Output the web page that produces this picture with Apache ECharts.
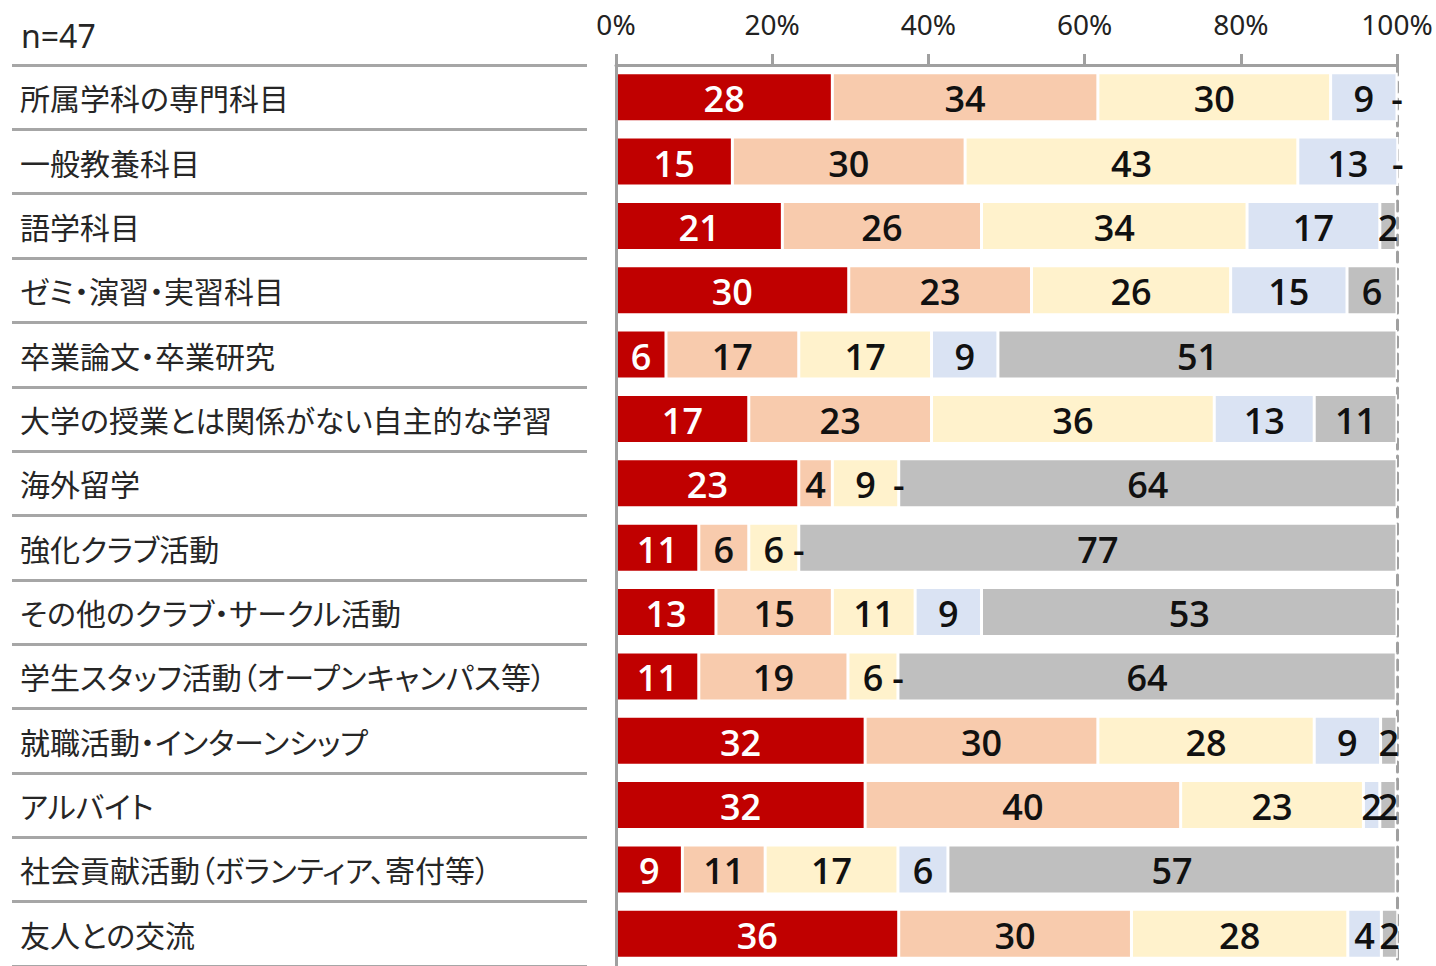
<!DOCTYPE html>
<html>
<head>
<meta charset="utf-8">
<script src="https://cdn.jsdelivr.net/npm/echarts@6/dist/echarts.min.js"></script>
<style>
html,body{margin:0;padding:0;background:#fff;}
#chart{width:1436px;height:966px;}
#chart text{font-feature-settings:"palt" 1 !important;}
</style>
</head>
<body>
<div id="chart"></div>
<script>
const sampleLabel = 'n=47';
const categories = [
  '所属学科の専門科目',
  '一般教養科目',
  '語学科目',
  'ゼミ・演習・実習科目',
  '卒業論文・卒業研究',
  '大学の授業とは関係がない自主的な学習',
  '海外留学',
  '強化クラブ活動',
  'その他のクラブ・サークル活動',
  '学生スタッフ活動（オープンキャンパス等）',
  '就職活動・インターンシップ',
  'アルバイト',
  '社会貢献活動（ボランティア、寄付等）',
  '友人との交流'
];
const xTicks = [0, 20, 40, 60, 80, 100];
const seriesNames = ['系列1', '系列2', '系列3', '系列4', '系列5'];
const values1 = [27.7, 14.9, 21.3, 29.8, 6.4, 17.0, 23.4, 10.6, 12.8, 10.6, 31.9, 31.9, 8.5, 36.2];
const values2 = [34.0, 29.8, 25.5, 23.4, 17.0, 23.4, 4.3, 6.4, 14.9, 19.1, 29.8, 40.4, 10.6, 29.8];
const values3 = [29.8, 42.6, 34.0, 25.5, 17.0, 36.2, 8.5, 6.4, 10.6, 6.4, 27.7, 23.4, 17.0, 27.7];
const values4 = [8.5, 12.8, 17.0, 14.9, 8.5, 12.8, 0, 0, 8.5, 0, 8.5, 2.1, 6.4, 4.3];
const values5 = [0, 0, 2.1, 6.4, 51.1, 10.6, 63.8, 76.6, 53.2, 63.8, 2.1, 2.1, 57.4, 2.1];

const allValues = [values1, values2, values3, values4, values5];
const colors = ['#C00000', '#F8CBAD', '#FFF2CC', '#DAE3F3', '#BFBFBF'];
const labelColors = ['#ffffff', '#111111', '#111111', '#111111', '#111111'];

const chart = echarts.init(document.getElementById('chart'), null, { renderer: 'svg' });
const axisGray = '#A0A0A0';

const series = allValues.map((vals, i) => ({
  name: seriesNames[i],
  type: 'bar',
  stack: 'total',
  xAxisIndex: 0,
  yAxisIndex: 0,
  barWidth: 49,
  clip: false,
  data: vals,
  itemStyle: { color: colors[i], borderColor: '#ffffff', borderWidth: 1.5 },
  label: {
    show: true,
    position: 'inside',
    offset: [0, 1.5],
    color: labelColors[i],
    fontSize: 36,
    fontFamily: 'Open Sans, Noto Sans, sans-serif',
    fontWeight: 600,
    formatter: p => (p.value === 0 ? '-' : String(Math.round(p.value)))
  },
  emphasis: { disabled: true }
}));

chart.setOption({
  animation: false,
  backgroundColor: '#ffffff',
  graphic: [{
    type: 'text',
    left: 21,
    top: 19,
    style: { text: sampleLabel, fontSize: 32, fontFamily: 'Noto Sans, sans-serif', fill: '#262626' }
  }],
  grid: [
    { left: 616, right: 39, top: 65, height: 903 },
    { left: 12, width: 575, top: 65, height: 903 }
  ],
  xAxis: [
    {
      gridIndex: 0,
      type: 'value',
      position: 'top',
      min: xTicks[0],
      max: xTicks[xTicks.length - 1],
      interval: 20,
      axisLine: { show: true, lineStyle: { color: axisGray, width: 3 } },
      axisTick: { show: true, length: 11, lineStyle: { color: axisGray, width: 3 } },
      splitLine: { show: false },
      axisLabel: {
        margin: 27,
        fontSize: 28,
        color: '#222222',
        fontFamily: 'Noto Sans, sans-serif',
        formatter: '{value}%'
      }
    },
    {
      gridIndex: 1,
      type: 'value',
      show: false,
      min: 0,
      max: 1
    }
  ],
  yAxis: [
    {
      gridIndex: 0,
      type: 'category',
      inverse: true,
      data: categories,
      z: 5,
      axisLine: { show: true, lineStyle: { color: axisGray, width: 3 } },
      axisTick: { show: false },
      splitLine: { show: false },
      axisLabel: {
        align: 'left',
        margin: 596,
        fontSize: 30,
        color: '#262626',
        fontFamily: 'Noto Sans CJK JP, sans-serif'
      }
    },
    {
      gridIndex: 0,
      type: 'category',
      position: 'right',
      inverse: true,
      data: categories,
      axisLine: { show: true, lineStyle: { color: axisGray, width: 3, type: [10, 7] } },
      axisTick: { show: false },
      axisLabel: { show: false },
      splitLine: { show: false }
    },
    {
      gridIndex: 1,
      type: 'category',
      inverse: true,
      data: categories,
      axisLine: { show: false },
      axisTick: { show: false },
      axisLabel: { show: false },
      splitLine: { show: true, lineStyle: { color: '#A6A6A6', width: 3 } }
    }
  ],
  series: series
});
</script>
</body>
</html>
